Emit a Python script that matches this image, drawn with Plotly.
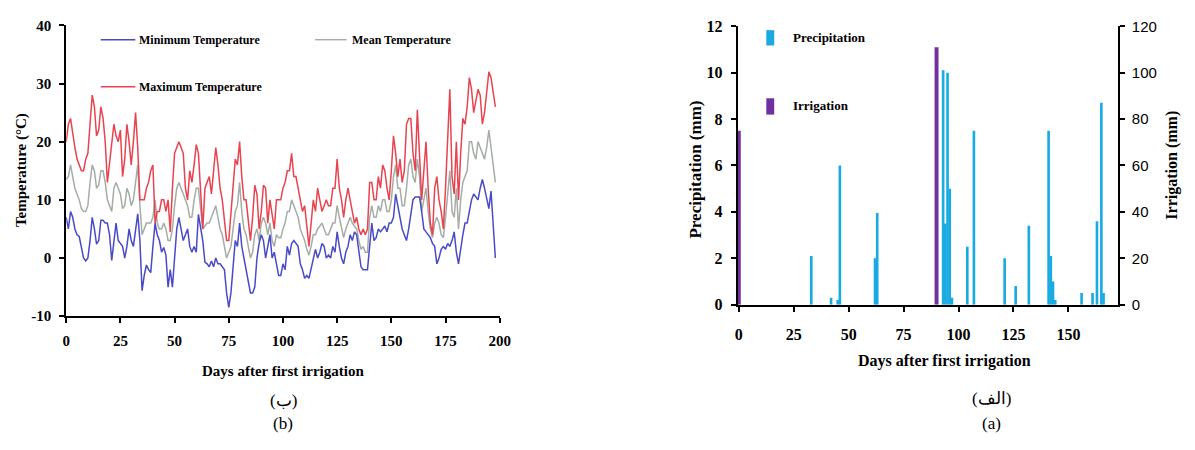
import plotly.graph_objects as go

# ---------------- data ----------------
days = list(range(199))

tmin = [7, 5, 8, 7, 5, 4, 3.7, 2, 0, -0.5,
        0, 3, 7, 5, 2.4, 3, 6.5, 6.5, 6, 6,
        4, -0.4, 3, 6, 3, 2.5, 2, 0, 2, 5,
        3, 2, 5, 7.6, 3, -5.6, -3, -1.2, -2, -2.5,
        2, 6, 4, 3, 1, 1.8, 0.5, -5, -2, -5,
        0, 5, 7, 5, 3, 4, 5, 2, 1, 2,
        1, 7.5, 5, 3, -0.7, -1, -1.5, -0.5, -1.5, 0,
        -1, -1, -1.5, -2, -6, -8.5, -6, -2, 3, 2,
        6, 2, 0, -2, -4, -6, -6, -5, 0, 2.5,
        4, 3, 0, 2, 4, 0, 1, -1, -3, -3,
        -1, -2, 2, 0.5, 2.5, 3, 2.5, 2, -1, -2,
        -3.5, -3, -3.5, -2, 0, 1.5, 0, 1, 2.5, 2,
        0, 0.5, 0, 2, 1, 4.5, 2, 0, -1, 1,
        2, 4, 3, 4.5, 4, 1, -1.5, -2, -2, -2,
        2, 6, 3, 3.5, 5, 4.5, 5, 5.5, 4.5, 6,
        6, 7, 11, 9, 7, 5, 4, 3, 5, 8,
        10, 10.5, 10.5, 10.5, 8, 5, 4.5, 4, 3.5, 2.5,
        2, -1, 0, 1.5, 2, 1.5, 2.5, 2, 3, 4.5,
        1, -1, 2, 4, 6, 6, 8, 10, 11, 10.5,
        10, 12, 13.5, 12, 10, 8.5, 11.5, 6, 0]

tmean = [13.5, 14, 16, 14, 12, 11, 10, 8.5, 8, 8,
         9, 13, 16, 15, 12, 12.5, 15, 15, 13, 10,
         9, 8, 12, 13, 12, 11, 8.5, 9, 12, 11,
         9, 10, 13, 16, 9, 4, 5, 6, 6, 6,
         7, 10, 6, 5, 5, 6, 5, 3, 3, 5,
         9, 12, 13, 12, 11, 10, 9, 7, 7, 10,
         12, 12, 8, 5, 5.5, 6, 6, 7, 8, 9,
         7, 5, 4, 2, 0, 1, 2, 5, 8, 9,
         13, 8, 5, 4, 2, 0, 1, 4, 5, 3,
         6, 7, 6, 4, 6, 3, 2, 4, 3.5, 3.5,
         5, 6, 8, 8, 10, 9, 8, 7, 5, 4,
         3, 1.5, 0.5, 2, 4, 4, 5, 5.5, 6, 5,
         4, 4, 5, 6, 6, 9, 7, 5, 3.5, 5,
         6, 7, 6, 5.5, 5, 3, 1.5, 2, 1, 1,
         7, 9, 7, 7, 9, 8, 10, 10, 8, 8,
         10, 14, 16, 12, 12, 9, 9, 12, 16, 17,
         14, 13, 17, 14, 8, 10, 12, 8, 5, 3.5,
         6, 7, 6, 4, 3.5, 7, 11, 15, 8, 7,
         12, 5, 10, 13, 14, 15, 20, 20, 18, 17,
         20, 19, 18, 17, 19, 22, 19, 16, 13]

tmax = [20, 23, 24, 21, 19, 17, 16, 15, 15, 17,
        18, 24, 28, 26, 21, 22, 26, 24, 20, 13,
        16, 20, 23, 21, 20, 22, 14, 17, 23, 20,
        16, 20, 25, 19, 10, 10, 10, 12, 13, 15,
        16, 6, 8, 8, 10, 10, 8, 10, 4.5, 12,
        18, 19, 20, 19, 18, 12, 10, 15, 13, 16,
        19.5, 18, 12, 5, 12, 13, 14, 11, 15, 19,
        16, 12, 10, 7, 3, 3, 8, 13, 17, 16,
        20, 14, 10, 10, 7, 3, 7, 12.5, 11, 5,
        8, 12.5, 12, 6, 10, 7, 5, 10, 10, 10,
        12, 13, 15, 15, 18, 14, 14, 12, 10, 8,
        9, 5, 2, 6, 10, 8, 12, 10, 8, 9,
        10, 9, 9, 12, 12, 17, 12, 10, 7, 10,
        12, 10, 8, 6, 7, 5, 4, 5, 4, 5,
        13, 13, 10, 10, 14, 12, 16, 15, 12, 10,
        15, 21, 18, 14, 17, 13, 15, 23, 24, 24,
        18, 15, 25.5, 18, 10, 15, 20, 12, 6, 4,
        12, 14, 10, 8, 5, 12, 20, 29, 14, 11,
        20, 10, 18, 24, 23, 26, 31, 29, 25, 27,
        29, 28, 23, 25, 29, 32, 31, 28, 26]

precip_days = [33, 42, 45, 46, 62, 63, 93, 94, 95, 96, 97, 104, 107, 121, 126,
               132, 141, 142, 143, 144, 156, 161, 163, 165, 166]
precip_mm = [2.1, 0.3, 0.2, 6.0, 2.0, 3.95, 10.1, 3.5, 10.0, 5.0, 0.3, 2.5, 7.5, 2.0, 0.8,
             3.4, 7.5, 2.1, 1.0, 0.2, 0.5, 0.5, 3.6, 8.7, 0.5]
irrig_days = [0, 90]
irrig_mm = [75, 111]

temp_xticks = [0, 25, 50, 75, 100, 125, 150, 175, 200]
temp_yticks = [-10, 0, 10, 20, 30, 40]
temp_ylabels = ["-10", "0", "10", "20", "30", "40"]
rain_ticks = [0, 25, 50, 75, 100, 125, 150]

# ---------------- helpers ----------------
W, H = 1195, 450
def px(x):
    return x / W
def py(y):
    return 1 - y / H

SERIF = "Liberation Serif"
C_MIN, C_MEAN, C_MAX = "#4a4ac8", "#a6aca6", "#e8434f"
C_PREC, C_IRR = "#1aaae2", "#7030a0"

fig = go.Figure()
fig.add_trace(go.Scatter(x=days, y=tmean, mode="lines", line=dict(color=C_MEAN, width=1.5),
                         xaxis="x", yaxis="y", name="Mean Temperature"))
fig.add_trace(go.Scatter(x=days, y=tmin, mode="lines", line=dict(color=C_MIN, width=1.5),
                         xaxis="x", yaxis="y", name="Minimum Temperature"))
fig.add_trace(go.Scatter(x=days, y=tmax, mode="lines", line=dict(color=C_MAX, width=1.5),
                         xaxis="x", yaxis="y", name="Maximum Temperature"))
fig.add_trace(go.Bar(x=precip_days, y=precip_mm, width=1.2, marker=dict(color=C_PREC, line=dict(width=0)),
                     xaxis="x2", yaxis="y2", name="Precipitation"))
fig.add_trace(go.Bar(x=irrig_days, y=irrig_mm, width=1.8, marker=dict(color=C_IRR, line=dict(width=0)),
                     xaxis="x2", yaxis="y3", name="Irrigation"))

def tf(size, bold=True, family=SERIF):
    return dict(family=family, size=size, color="black", weight="bold" if bold else "normal")

axis_common = dict(showline=True, linecolor="black", linewidth=2, ticks="outside", ticklen=5,
                   tickwidth=1.5, tickcolor="black", showgrid=False, zeroline=False)

fig.update_layout(
    width=W, height=H, margin=dict(l=0, r=0, t=0, b=0),
    paper_bgcolor="white", plot_bgcolor="white", showlegend=False, barmode="overlay",
    xaxis=dict(domain=[px(63), px(502)], range=[0, 200], tickvals=temp_xticks, anchor="y",
               ticklabelstandoff=5, tickfont=tf(15), **axis_common),
    yaxis=dict(domain=[py(320), py(17)], range=[-10, 40], tickvals=temp_yticks, ticktext=temp_ylabels,
               anchor="x", ticklabelstandoff=5, tickfont=tf(15), **axis_common),
    xaxis2=dict(domain=[px(743), px(1128)], range=[-0.5, 172.5], tickvals=rain_ticks, anchor="y2",
                ticklabelstandoff=9, tickfont=tf(16), **axis_common),
    yaxis2=dict(domain=[py(308), py(18)], range=[0, 12], dtick=2, anchor="x2",
                ticklabelstandoff=5, tickfont=tf(16), **axis_common),
    yaxis3=dict(range=[0, 120], dtick=20, overlaying="y2", side="right", anchor="x2",
                ticklabelstandoff=4, tickfont=tf(15, bold=False, family="Liberation Sans"), **axis_common),
)

ann = []
def text(x, y, s, size=13, bold=True, angle=0, xanchor="center", family=SERIF):
    ann.append(dict(x=px(x), y=py(y), xref="paper", yref="paper", text=s, showarrow=False,
                    xanchor=xanchor, yanchor="middle", textangle=angle,
                    font=tf(size, bold, family)))

# axis titles
text(17, 168, "Temperature (°C)", size=15, angle=-90)
text(283, 377, "Days after first irrigation", size=15)
text(700, 167, "Precipitation (mm)", size=17, angle=-90)
text(1183, 163, "Irrigation (mm)", size=16, angle=-90)
text(952, 367, "Days after first irrigation", size=16)

# captions
text(283, 408, "(ب)", size=17, bold=False)
text(283, 432, "(b)", size=17, bold=False)
text(1000, 406, "(الف)", size=17, bold=False)
text(1000, 432, "(a)", size=17, bold=False)

# legend texts
text(135, 32, "Minimum Temperature", size=12, xanchor="left")
text(350, 32, "Mean Temperature", size=12, xanchor="left")
text(135, 81, "Maximum Temperature", size=12, xanchor="left")
text(797, 30, "Precipitation", size=13, xanchor="left")
text(797, 101, "Irrigation", size=13, xanchor="left")

shapes = []
def seg(x0, x1, y, color):
    shapes.append(dict(type="line", xref="paper", yref="paper", x0=px(x0), x1=px(x1),
                       y0=py(y), y1=py(y), line=dict(color=color, width=1.4)))
def box(x0, x1, y0, y1, color):
    shapes.append(dict(type="rect", xref="paper", yref="paper", x0=px(x0), x1=px(x1),
                       y0=py(y1), y1=py(y0), fillcolor=color, line=dict(width=0)))

seg(98, 133, 32, C_MIN)
seg(315, 347, 32, C_MEAN)
seg(98, 133, 81, C_MAX)
box(772, 780, 22, 38, C_PREC)
box(772, 780, 93, 110, C_IRR)

fig.update_layout(annotations=ann, shapes=shapes)

fig.write_html("out.html", config={"displayModeBar": False},
               post_script="document.body.style.margin='0';")
